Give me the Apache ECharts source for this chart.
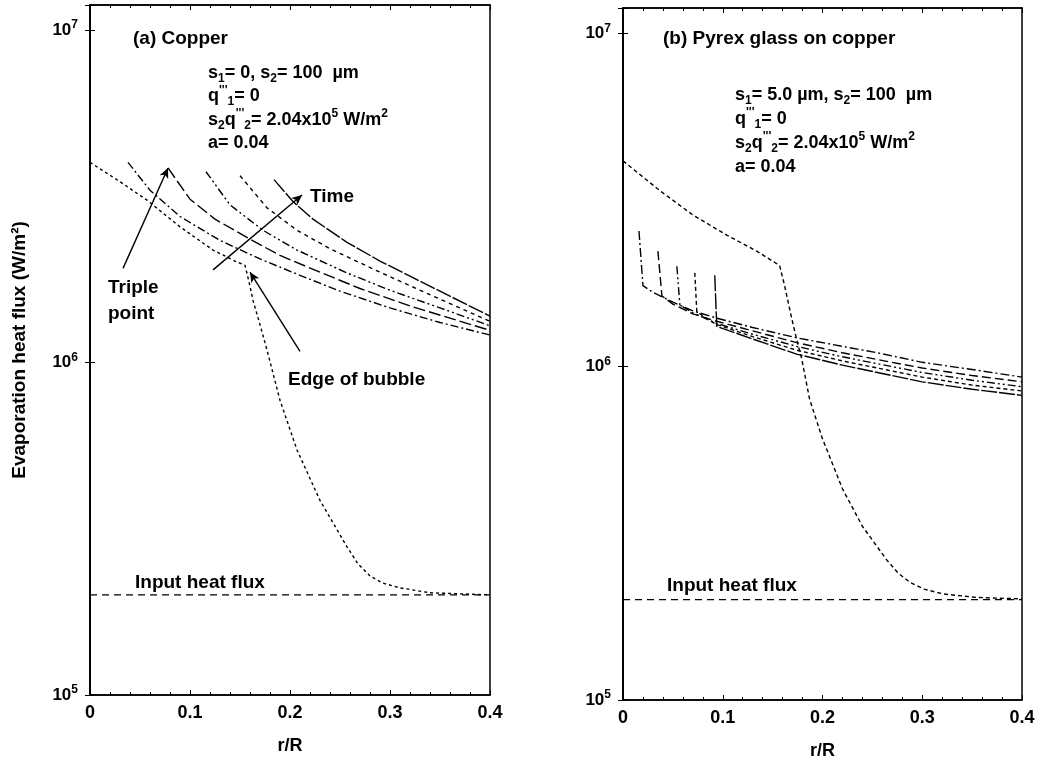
<!DOCTYPE html>
<html>
<head>
<meta charset="utf-8">
<title>Evaporation heat flux</title>
<script src="https://cdn.jsdelivr.net/npm/echarts@6/dist/echarts.min.js"></script>
<style>
  html, body { margin: 0; padding: 0; background: #fff; }
  #chart { width: 1043px; height: 769px; }
</style>
</head>
<body>
<div id="chart"></div>
<script>
// axes
const xTicks = [0, 0.1, 0.2, 0.3, 0.4];
const yMin = 1e5;
const yMax = 1.19e7;
const inputFlux = 2.0e5;

// (a) Copper -- [r/R, flux W/m2]
const cuBubble = [[0, 4.0e6], [0.03, 3.5e6], [0.057, 3.08e6], [0.09, 2.56e6], [0.123, 2.18e6], [0.145, 2.02e6],
  [0.155, 1.96e6], [0.159, 1.75e6], [0.163, 1.54e6], [0.17, 1.3e6], [0.177, 1.09e6], [0.19, 7.7e5],
  [0.207, 5.46e5], [0.23, 3.85e5], [0.257, 2.79e5], [0.268, 2.48e5], [0.28, 2.28e5], [0.293, 2.17e5],
  [0.31, 2.1e5], [0.34, 2.03e5], [0.4, 2.0e5]];
const cuT1 = [[0.038, 4.0e6], [0.06, 3.3e6], [0.09, 2.75e6], [0.13, 2.33e6], [0.17, 2.05e6], [0.21, 1.83e6],
  [0.25, 1.64e6], [0.3, 1.46e6], [0.35, 1.32e6], [0.4, 1.21e6]];
const cuT2 = [[0.078, 3.85e6], [0.1, 3.1e6], [0.125, 2.7e6], [0.16, 2.35e6], [0.19, 2.1e6], [0.23, 1.87e6],
  [0.27, 1.67e6], [0.32, 1.48e6], [0.36, 1.36e6], [0.4, 1.25e6]];
const cuT3 = [[0.116, 3.75e6], [0.14, 2.98e6], [0.173, 2.5e6], [0.207, 2.18e6], [0.257, 1.86e6], [0.3, 1.65e6],
  [0.35, 1.46e6], [0.4, 1.29e6]];
const cuT4 = [[0.15, 3.65e6], [0.177, 2.92e6], [0.207, 2.5e6], [0.24, 2.2e6], [0.29, 1.87e6], [0.34, 1.6e6],
  [0.4, 1.33e6]];
const cuT5 = [[0.184, 3.55e6], [0.203, 3.05e6], [0.223, 2.7e6], [0.257, 2.3e6], [0.29, 2.02e6], [0.323, 1.8e6],
  [0.357, 1.6e6], [0.4, 1.38e6]];

// arrows on (a): [from, to]
const arrowTime = [[0.123, 1.9e6], [0.212, 3.19e6]];
const arrowTriple = [[0.033, 1.92e6], [0.078, 3.85e6]];
const arrowEdge = [[0.21, 1.08e6], [0.16, 1.87e6]];

// (b) Pyrex glass on copper
const glBubble = [[0, 4.14e6], [0.037, 3.37e6], [0.07, 2.85e6], [0.104, 2.48e6], [0.134, 2.22e6], [0.157, 2.01e6],
  [0.162, 1.75e6], [0.169, 1.4e6], [0.174, 1.21e6], [0.179, 1.06e6], [0.187, 8.0e5], [0.2, 6.07e5],
  [0.22, 4.3e5], [0.24, 3.32e5], [0.264, 2.64e5], [0.276, 2.4e5], [0.288, 2.25e5], [0.302, 2.15e5],
  [0.321, 2.08e5], [0.355, 2.03e5], [0.4, 2.01e5]];
const glT1 = [[0.016, 2.55e6], [0.02, 1.75e6], [0.03, 1.67e6], [0.05, 1.56e6], [0.07, 1.47e6], [0.093, 1.4e6],
  [0.13, 1.31e6], [0.174, 1.22e6], [0.22, 1.15e6], [0.255, 1.1e6], [0.3, 1.03e6], [0.35, 9.8e5], [0.4, 9.3e5]];
const glT2 = [[0.035, 2.22e6], [0.039, 1.63e6], [0.05, 1.54e6], [0.07, 1.44e6], [0.093, 1.37e6], [0.13, 1.28e6],
  [0.174, 1.18e6], [0.22, 1.1e6], [0.255, 1.05e6], [0.3, 9.9e5], [0.35, 9.4e5], [0.4, 9.0e5]];
const glT3 = [[0.054, 2.0e6], [0.057, 1.53e6], [0.07, 1.45e6], [0.093, 1.35e6], [0.13, 1.25e6], [0.174, 1.15e6],
  [0.22, 1.07e6], [0.255, 1.02e6], [0.3, 9.6e5], [0.35, 9.1e5], [0.4, 8.7e5]];
const glT4 = [[0.072, 1.91e6], [0.074, 1.46e6], [0.093, 1.34e6], [0.13, 1.23e6], [0.174, 1.12e6], [0.22, 1.04e6],
  [0.255, 9.9e5], [0.3, 9.3e5], [0.35, 8.8e5], [0.4, 8.45e5]];
const glT5 = [[0.092, 1.88e6], [0.094, 1.32e6], [0.13, 1.21e6], [0.174, 1.09e6], [0.22, 1.01e6], [0.255, 9.6e5],
  [0.3, 9.0e5], [0.35, 8.55e5], [0.4, 8.2e5]];

const FONT = "'Liberation Sans', Arial, sans-serif";
const richSS = {
  sub: { fontFamily: FONT, fontSize: 12, fontWeight: 'bold', color: '#000', lineHeight: 12, verticalAlign: 'bottom' },
  sup: { fontFamily: FONT, fontSize: 12, fontWeight: 'bold', color: '#000', lineHeight: 12, verticalAlign: 'top' }
};

var chartDom = document.getElementById('chart');
var myChart = echarts.init(chartDom);
var option;

function line(data, dash, idx) {
  return {
    type: 'line', xAxisIndex: idx, yAxisIndex: idx, data: data,
    symbol: 'none', silent: true,
    lineStyle: { color: '#000', width: 1.4, type: dash }
  };
}

function note(text, left, top, lh, size) {
  return {
    text: text, left: left, top: top, padding: 0,
    textStyle: { fontFamily: FONT, fontSize: size || 19, fontWeight: 'bold', color: '#000', lineHeight: lh || 22, rich: richSS }
  };
}

function xAx(idx, top) {
  return {
    type: 'value', gridIndex: idx, min: xTicks[0], max: xTicks[xTicks.length - 1],
    interval: xTicks[1] - xTicks[0], position: top ? 'top' : 'bottom',
    name: top ? '' : 'r/R', nameLocation: 'middle', nameGap: 42,
    nameTextStyle: { fontFamily: FONT, fontSize: 18, fontWeight: 'bold', color: '#000' },
    axisLine: { lineStyle: { color: '#000', width: 1.5 } },
    axisTick: { inside: true, length: 5, lineStyle: { color: '#000' } },
    minorTick: { show: true, splitNumber: 5, length: 3, lineStyle: { color: '#000' } },
    splitLine: { show: false },
    axisLabel: { show: !top, fontFamily: FONT, fontSize: 18, fontWeight: 'bold', color: '#000', margin: 9 }
  };
}

function yAx(idx, title, right) {
  return {
    type: 'log', logBase: 10, gridIndex: idx, min: yMin, max: yMax, position: right ? 'right' : 'left',
    name: title, nameLocation: 'middle', nameGap: 61,
    nameTextStyle: { fontFamily: FONT, fontSize: 19, fontWeight: 'bold', color: '#000' },
    axisLine: { lineStyle: { color: '#000', width: 1.5 } },
    axisTick: { inside: true, length: 5, lineStyle: { color: '#000' } },
    splitLine: { show: false },
    axisLabel: {
      show: !right,
      fontFamily: FONT, fontSize: 17, fontWeight: 'bold', color: '#000', margin: 12, lineHeight: 22,
      rich: { sup: { fontFamily: FONT, fontSize: 12, fontWeight: 'bold', color: '#000', lineHeight: 12, verticalAlign: 'top' } },
      formatter: function (v) {
        const e = Math.log10(v);
        return Math.abs(e - Math.round(e)) < 1e-6 ? '10{sup|' + Math.round(e) + '}' : '';
      }
    }
  };
}

const arrowStyle = {
  silent: true, symbol: ['none', 'arrow'], symbolSize: [7, 10],
  label: { show: false },
  lineStyle: { color: '#000', type: 'solid', width: 1.4 },
  data: [arrowTime, arrowTriple, arrowEdge].map(a => [{ coord: a[0] }, { coord: a[1] }])
};

option = {
  backgroundColor: '#fff',
  animation: false,
  title: [
    note('(a) Copper', 133, 28),
    note('s{sub|1}= 0, s{sub|2}= 100  µm\nq{sup|\'\'\'}{sub|1}= 0\ns{sub|2}q{sup|\'\'\'}{sub|2}= 2.04x10{sup|5} W/m{sup|2}\na= 0.04', 208, 61, 23.5, 18),
    note('Time', 310, 186),
    note('Triple\npoint', 108, 275, 26),
    note('Edge of bubble', 288, 369),
    note('Input heat flux', 135, 572),
    note('(b) Pyrex glass on copper', 663, 28),
    note('s{sub|1}= 5.0 µm, s{sub|2}= 100  µm\nq{sup|\'\'\'}{sub|1}= 0\ns{sub|2}q{sup|\'\'\'}{sub|2}= 2.04x10{sup|5} W/m{sup|2}\na= 0.04', 735, 83, 24, 18),
    note('Input heat flux', 667, 575)
  ],
  grid: [
    { left: 90, top: 5, width: 400, height: 690, show: true, borderColor: '#000', borderWidth: 1.5 },
    { left: 623, top: 8, width: 399, height: 692, show: true, borderColor: '#000', borderWidth: 1.5 }
  ],
  xAxis: [xAx(0), xAx(1), xAx(0, true), xAx(1, true)],
  yAxis: [yAx(0, 'Evaporation heat flux (W/m²)'), yAx(1, ''), yAx(0, '', true), yAx(1, '', true)],
  series: [
    Object.assign(line([[xTicks[0], inputFlux], [xTicks[4], inputFlux]], [7, 5], 0), { markLine: arrowStyle }),
    line(cuBubble, [3, 3], 0),
    line(cuT1, [8, 3, 2, 3], 0),
    line(cuT2, [12, 4], 0),
    line(cuT3, [8, 3, 2, 3, 2, 3], 0),
    line(cuT4, [4, 4], 0),
    line(cuT5, [16, 2], 0),

    line([[xTicks[0], inputFlux], [xTicks[4], inputFlux]], [7, 5], 1),
    line(glBubble, [4, 3], 1),
    line(glT1, [9, 3, 2, 3], 1),
    line(glT2, [9, 4], 1),
    line(glT3, [8, 3, 2, 3, 2, 3], 1),
    line(glT4, [4, 3], 1),
    line(glT5, [16, 2], 1)
  ]
};

option && myChart.setOption(option);
</script>
</body>
</html>
